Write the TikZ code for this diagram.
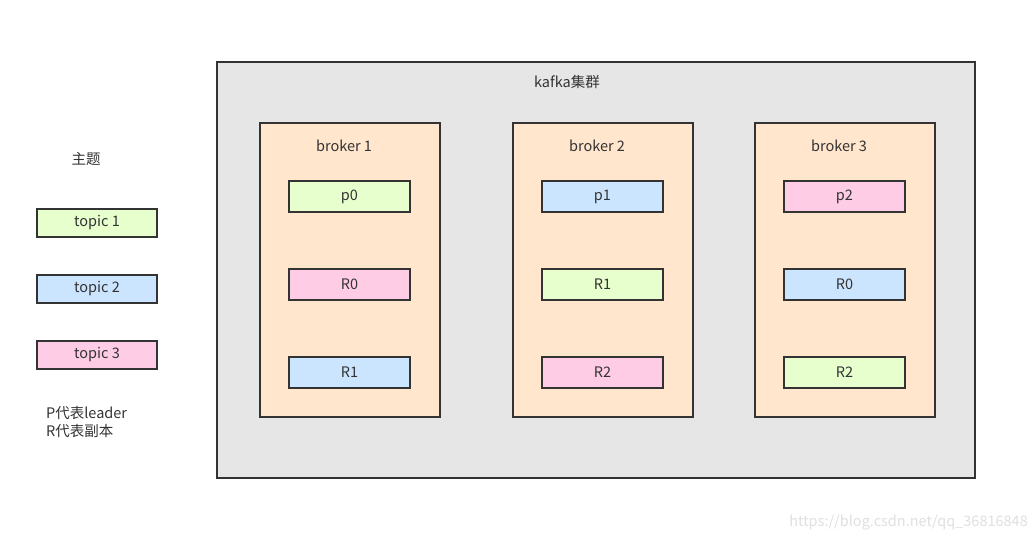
\documentclass[tikz,border=0pt]{standalone}
\usepackage{fontspec}
\setmainfont{Noto Sans CJK SC}
\usetikzlibrary{positioning}
\definecolor{clustergray}{HTML}{E6E6E6}
\definecolor{brokerfill}{HTML}{FFE6CC}
\definecolor{greenpart}{HTML}{E6FFCC}
\definecolor{bluepart}{HTML}{CCE5FF}
\definecolor{pinkpart}{HTML}{FFCCE6}
\definecolor{edgedark}{HTML}{333333}
\definecolor{textgray}{HTML}{333333}
\tikzset{
  txt/.style={font=\fontsize{14.5}{18}\selectfont,text=textgray,inner sep=0pt},
  cluster/.style={draw=edgedark,fill=clustergray,line width=1.5pt,anchor=north west,minimum width=758pt,minimum height=416pt,inner sep=0pt},
  broker/.style={draw=edgedark,fill=brokerfill,line width=1.5pt,minimum width=180pt,minimum height=294pt,inner sep=0pt},
  part/.style={draw=edgedark,line width=1.5pt,minimum width=121pt,minimum height=31pt,inner sep=0pt,font=\fontsize{14.5}{18}\selectfont,text=textgray},
  topicbox/.style={part,minimum width=120pt,minimum height=28pt}
}
\begin{document}
\begin{tikzpicture}[x=1pt,y=-1pt]
\path[use as bounding box,fill=white] (0,0) rectangle (1036,541);
% cluster
\node[cluster] (kafka) at (216,61) {};
\node[txt] (kafkatitle) at (567,82) {kafka集群};
% brokers with their partitions
\foreach \i/\x/\pa/\ca/\pb/\cb/\pc/\cc in {
1/350/p0/greenpart/R0/pinkpart/R1/bluepart,
2/603/p1/bluepart/R1/greenpart/R2/pinkpart,
3/845/p2/pinkpart/R0/bluepart/R2/greenpart}
{
\node[broker] (broker\i) at (\x,270) {};
\node[txt] (brokername\i) at (\x-6,146) {broker \i};
\node[part,fill=\ca] (pa\i) at (\x-0.5,196.5) {\pa};
\node[part,fill=\cb] (pb\i) at (\x-0.5,284.5) {\pb};
\node[part,fill=\cc] (pc\i) at (\x-0.5,372.5) {\pc};
}
% legend
\node[txt] (legendtitle) at (86,159) {主题};
\node[topicbox,fill=greenpart] (topic1) at (97,223) {topic 1};
\node[topicbox,fill=bluepart] (topic2) at (97,289) {topic 2};
\node[topicbox,fill=pinkpart] (topic3) at (97,355) {topic 3};
\node[txt,anchor=west,align=left] (legendnote) at (46,422) {P代表leader\\R代表副本};
% watermark
\node[txt,text=black!12,anchor=east] (mark) at (1028,523) {https://blog.csdn.net/qq\_36816848};
\end{tikzpicture}
\end{document}
